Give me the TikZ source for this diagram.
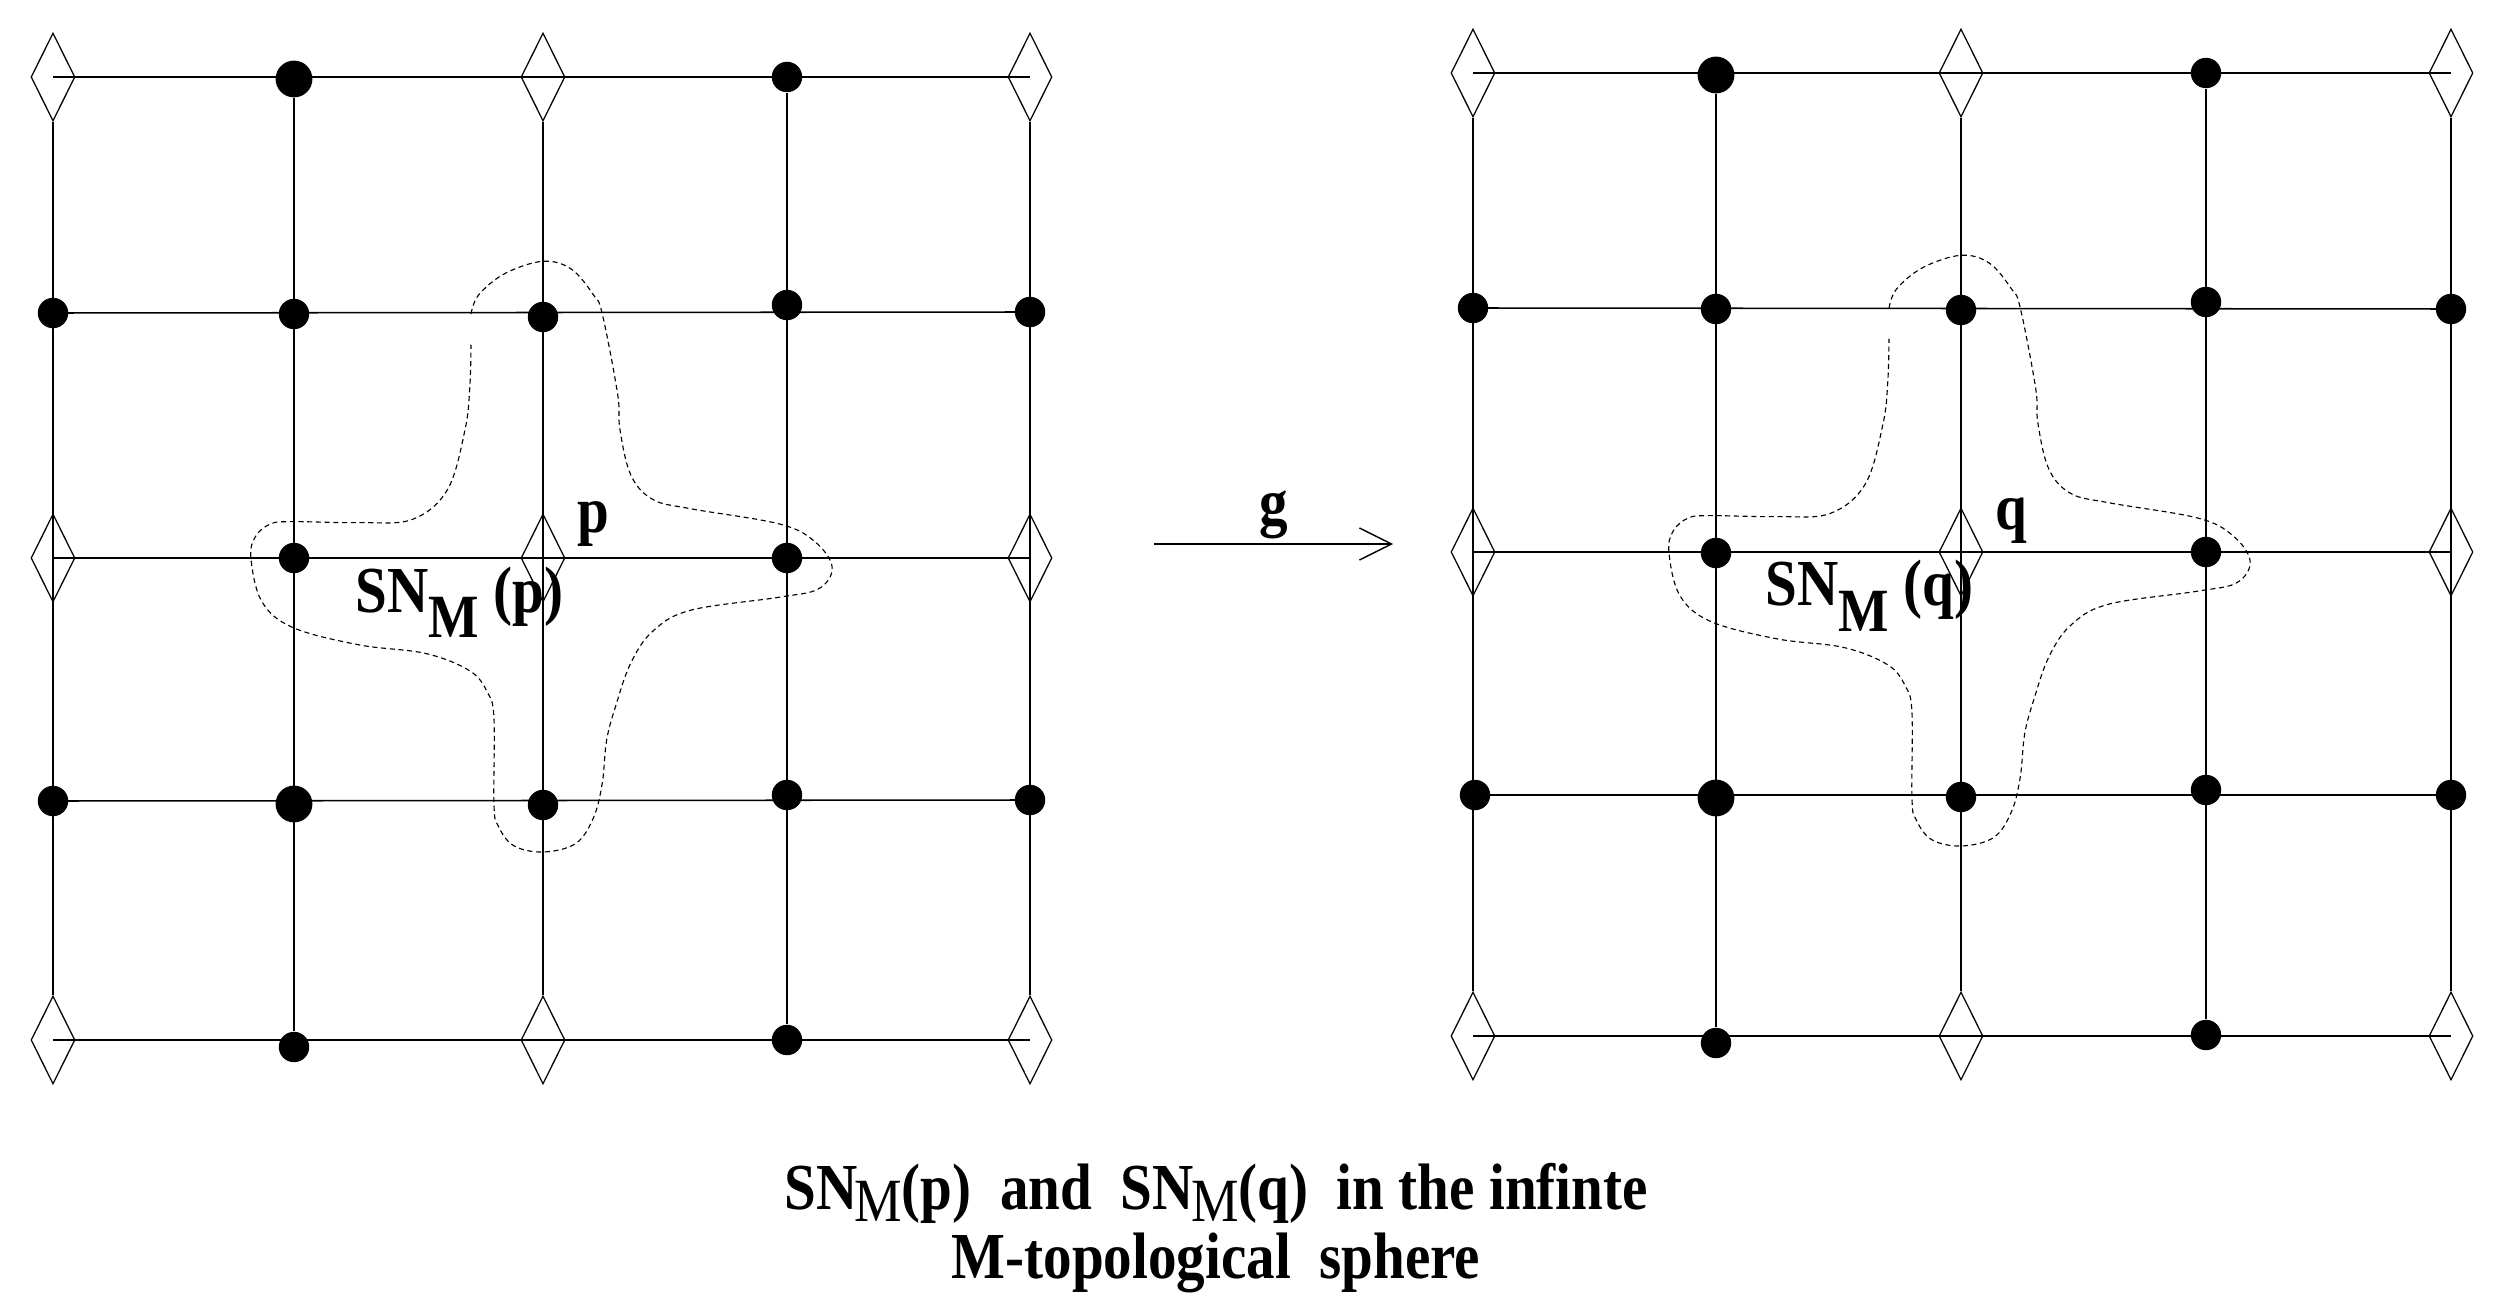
\documentclass[tikz,border=0pt]{standalone}
\usepackage{fontspec}
\setmainfont{Liberation Serif}
\usepackage{graphicx}
\usetikzlibrary{arrows.meta,shapes.geometric}

% lowered subscript M of SN_M
\newcommand{\subM}[2][\mdseries]{\raisebox{-#2}{\fontsize{19}{20}\selectfont#1M}}
% texts are a little taller than the font
\newcommand{\tallbox}[1]{\scalebox{1}[1.15]{#1}}
% dashed outline of SN_M, in grid units round the centre point
\newcommand{\nbhd}{%
  \draw[nbhd] plot[smooth,tension=0.6] coordinates {
    (-0.295,-1.0) (-0.264,-1.078) (-0.156,-1.166) (0,-1.216) (0.116,-1.184)
    (0.207,-1.078) (0.243,-1.0) (0.306,-0.671) (0.315,-0.529) (0.36,-0.34)
    (0.45,-0.24) (0.605,-0.202) (0.967,-0.140) (1.112,-0.069) (1.185,0.037)
    (1.13,0.126) (0.967,0.161) (0.605,0.214) (0.45,0.30) (0.36,0.43)
    (0.30,0.60) (0.261,0.745) (0.243,0.922) (0.207,1.064) (0.134,1.170)
    (0,1.205) (-0.120,1.179) (-0.183,1.099) (-0.201,1.011) (-0.201,0.657)
    (-0.228,0.550) (-0.301,0.462) (-0.482,0.391) (-0.754,0.356) (-1.025,0.285)
    (-1.152,0.179) (-1.197,0.002) (-1.179,-0.087) (-1.116,-0.140) (-1.025,-0.149)
    (-0.754,-0.145) (-0.536,-0.158) (-0.391,-0.281) (-0.319,-0.529) (-0.30,-0.70)
    (-0.295,-0.874)};}

\begin{document}
\begin{tikzpicture}[x=0.0125cm,y=-0.0125cm,
  grid line/.style={line width=0.55pt},
  site/.style={circle,fill=black,inner sep=0pt,minimum size=0.38cm},
  big site/.style={site,minimum size=0.46cm},
  gem/.style={diamond,draw,line width=0.45pt,inner sep=0pt,
    minimum width=0.55cm,minimum height=1.1cm},
  nbhd/.style={dash pattern=on 1.8pt off 1.3pt,line width=0.4pt},
  lbl/.style={font=\fontsize{20.3}{22}\selectfont\bfseries,inner sep=0pt}]

  \useasboundingbox (0,0) rectangle (2509,1312);

  % left sphere
  \foreach \n/\x/\y in {l00/53/77, l20/543/77, l40/1030/77,
      l02/53/558, l22/543/558, l42/1030/558,
      l04/53/1040, l24/543/1040, l44/1030/1040}
    \node[gem] (\n) at (\x,\y) {};
  \foreach \n/\x/\y in {l30/787/77,
      l01/53/313, l11/294/314, l21/543/317, l31/787/305, l41/1030/312,
      l12/294/558, l32/787/558,
      l03/53/801, l23/543/805, l33/787/795, l43/1030/800,
      l14/294/1047, l34/787/1040}
    \node[site] (\n) at (\x,\y) {};
  \node[big site] (l10) at (294,79) {};
  \node[big site] (l13) at (294,804) {};

  % right sphere
  \foreach \n/\x/\y in {r00/1473/73, r20/1961/73, r40/2451/73,
      r02/1473/552, r22/1961/552, r42/2451/552,
      r04/1473/1036, r24/1961/1036, r44/2451/1036}
    \node[gem] (\n) at (\x,\y) {};
  \foreach \n/\x/\y in {r30/2206/73,
      r01/1473/308, r11/1716/309, r21/1961/310, r31/2206/302, r41/2451/309,
      r12/1716/553, r32/2206/552,
      r03/1475/795, r23/1961/797, r33/2206/790, r43/2451/795,
      r14/1716/1043, r34/2206/1035}
    \node[site] (\n) at (\x,\y) {};
  \node[big site] (r10) at (1716,75) {};
  \node[big site] (r13) at (1716,798) {};

  \foreach \i in {0,...,4} {
    \draw[grid line] (l\i0) -- (l\i4);
    \draw[grid line] (l0\i.center) -- (l4\i.center);
    \draw[grid line] (r\i0) -- (r\i4);
    \draw[grid line] (r0\i.center) -- (r4\i.center);
  }

  \begin{scope}[shift={(l22.center)},scale=244]
    \nbhd
  \end{scope}
  \begin{scope}[shift={(r22.center)},scale=244]
    \nbhd
  \end{scope}

  \node[lbl,anchor=base west] (p) at (577,533) {\tallbox{p}};
  \node[lbl,anchor=base west] (snp) at (355,612)
    {\tallbox{SN\subM[\bfseries]{7.8pt}\ (p)}};
  \node[lbl,anchor=base west] (q) at (1995,530) {\tallbox{q}};
  \node[lbl,anchor=base west] (snq) at (1765,606)
    {\tallbox{SN\subM[\bfseries]{7.8pt}\ (q)}};

  % the map g
  \coordinate (gfrom) at (1154,544);
  \coordinate (gto) at (1393,544);
  \draw[line width=0.5pt,-{Straight Barb[length=0.4cm,width=0.4cm]}]
    (gfrom) -- node[lbl,above,inner sep=1.5pt] (g) {\tallbox{g}} (gto);

  \node[lbl,font=\fontsize{20.3}{24.6}\selectfont\bfseries,align=center,
    anchor=north] (caption) at (1216,1163)
    {\tallbox{SN\kern-1pt\subM{3.5pt}(p)\ \ and\ \ SN\kern-1pt\subM{3.5pt}(q)\ \ in the infinte}\\
     \tallbox{M-topological\ \ sphere}};
\end{tikzpicture}
\end{document}
